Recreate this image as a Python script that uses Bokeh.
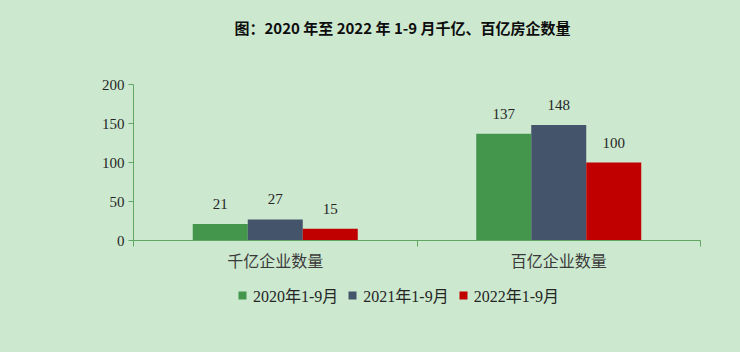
from bokeh.plotting import figure
from bokeh.layouts import column
from bokeh.models import FixedTicker, Legend, LegendItem, ColumnDataSource, LabelSet, Label
from bokeh.embed import file_html
from bokeh.resources import INLINE

title_text = "图：2020 年至 2022 年 1-9 月千亿、百亿房企数量"
categories = ["千亿企业数量", "百亿企业数量"]
series = ["2020年1-9月", "2021年1-9月", "2022年1-9月"]
v2020 = [21, 137]
v2021 = [27, 148]
v2022 = [15, 100]
y_ticks = [0, 50, 100, 150, 200]
colors = ["#43964b", "#44546a", "#c00000"]

BG = "#cce8cf"
AXIS = "#5fa763"
SERIF = "Liberation Serif, Noto Sans CJK SC"

def bare(h):
    f = figure(width=740, height=h, output_backend="svg", toolbar_location=None,
               x_range=(0, 1), y_range=(0, 1), x_axis_location=None, y_axis_location=None,
               background_fill_alpha=0, border_fill_alpha=0, outline_line_color=None,
               min_border=0)
    f.grid.visible = False
    return f

# ---- title strip (frame is aligned with the chart frame, which starts at x=133)
pt = bare(60)
pt.add_layout(Label(x=269, y=33, x_units="screen", y_units="screen", text=title_text,
                    text_align="center", text_baseline="middle",
                    text_font="Noto Sans CJK SC", text_font_style="bold",
                    text_font_size="15px", text_color="#0d0d0d"))

# ---- main chart
p = figure(frame_width=567, frame_height=156, output_backend="svg", toolbar_location=None,
           x_range=(0, len(categories)), y_range=(0, 200),
           background_fill_alpha=0, border_fill_alpha=0, outline_line_color=None,
           min_border_left=133, min_border_right=40, min_border_top=24, min_border_bottom=40)
p.grid.visible = False

bw = 0.194
offsets = [-bw, 0, bw]
for vals, off, col in zip([v2020, v2021, v2022], offsets, colors):
    xs = [i + 0.5 + off for i in range(len(categories))]
    src = ColumnDataSource(dict(x=xs, top=vals, lab=[str(v) for v in vals]))
    p.vbar(x="x", top="top", width=bw, source=src, fill_color=col, line_color=None)
    p.add_layout(LabelSet(x="x", y="top", text="lab", source=src, text_align="center",
                          text_baseline="bottom", y_offset=15, text_font=SERIF,
                          text_font_size="15px", text_color="#262626"))

p.yaxis.ticker = FixedTicker(ticks=y_ticks)
p.yaxis.axis_line_color = AXIS
p.yaxis.major_tick_line_color = AXIS
p.yaxis.major_tick_out = 5
p.yaxis.major_tick_in = 0
p.yaxis.minor_tick_line_color = None
p.yaxis.major_label_text_font = SERIF
p.yaxis.major_label_text_font_size = "15px"
p.yaxis.major_label_text_color = "#262626"
p.yaxis.major_label_standoff = 4

p.xaxis.ticker = FixedTicker(ticks=[i + 0.5 for i in range(len(categories))],
                             minor_ticks=list(range(len(categories) + 1)))
p.xaxis.major_label_overrides = {i + 0.5: c for i, c in enumerate(categories)}
p.xaxis.axis_line_color = AXIS
p.xaxis.major_tick_line_color = None
p.xaxis.minor_tick_line_color = AXIS
p.xaxis.minor_tick_out = 6
p.xaxis.minor_tick_in = 0
p.xaxis.major_label_text_font = SERIF
p.xaxis.major_label_text_font_size = "16px"
p.xaxis.major_label_text_color = "#3a3a3a"
p.xaxis.major_label_standoff = 6

# ---- legend strip (zero-height swatch renderers, only used for the legend glyphs)
pl = bare(72)
items = []
for s, col in zip(series, colors):
    r = pl.vbar(x=[0.5], top=[0], width=0.0, fill_color=col, line_color=None)
    items.append(LegendItem(label=s, renderers=[r]))
legend = Legend(items=items, orientation="horizontal", location=(104, 45),
                background_fill_alpha=0, border_line_color=None,
                label_text_font=SERIF, label_text_font_size="16px", label_text_color="#262626",
                glyph_width=10, glyph_height=10, spacing=9, label_standoff=6,
                padding=0, margin=0)
pl.add_layout(legend, "center")

layout = column(pt, p, pl, spacing=0, styles={"background-color": BG})
open("out.html", "w").write(file_html(layout, INLINE))
